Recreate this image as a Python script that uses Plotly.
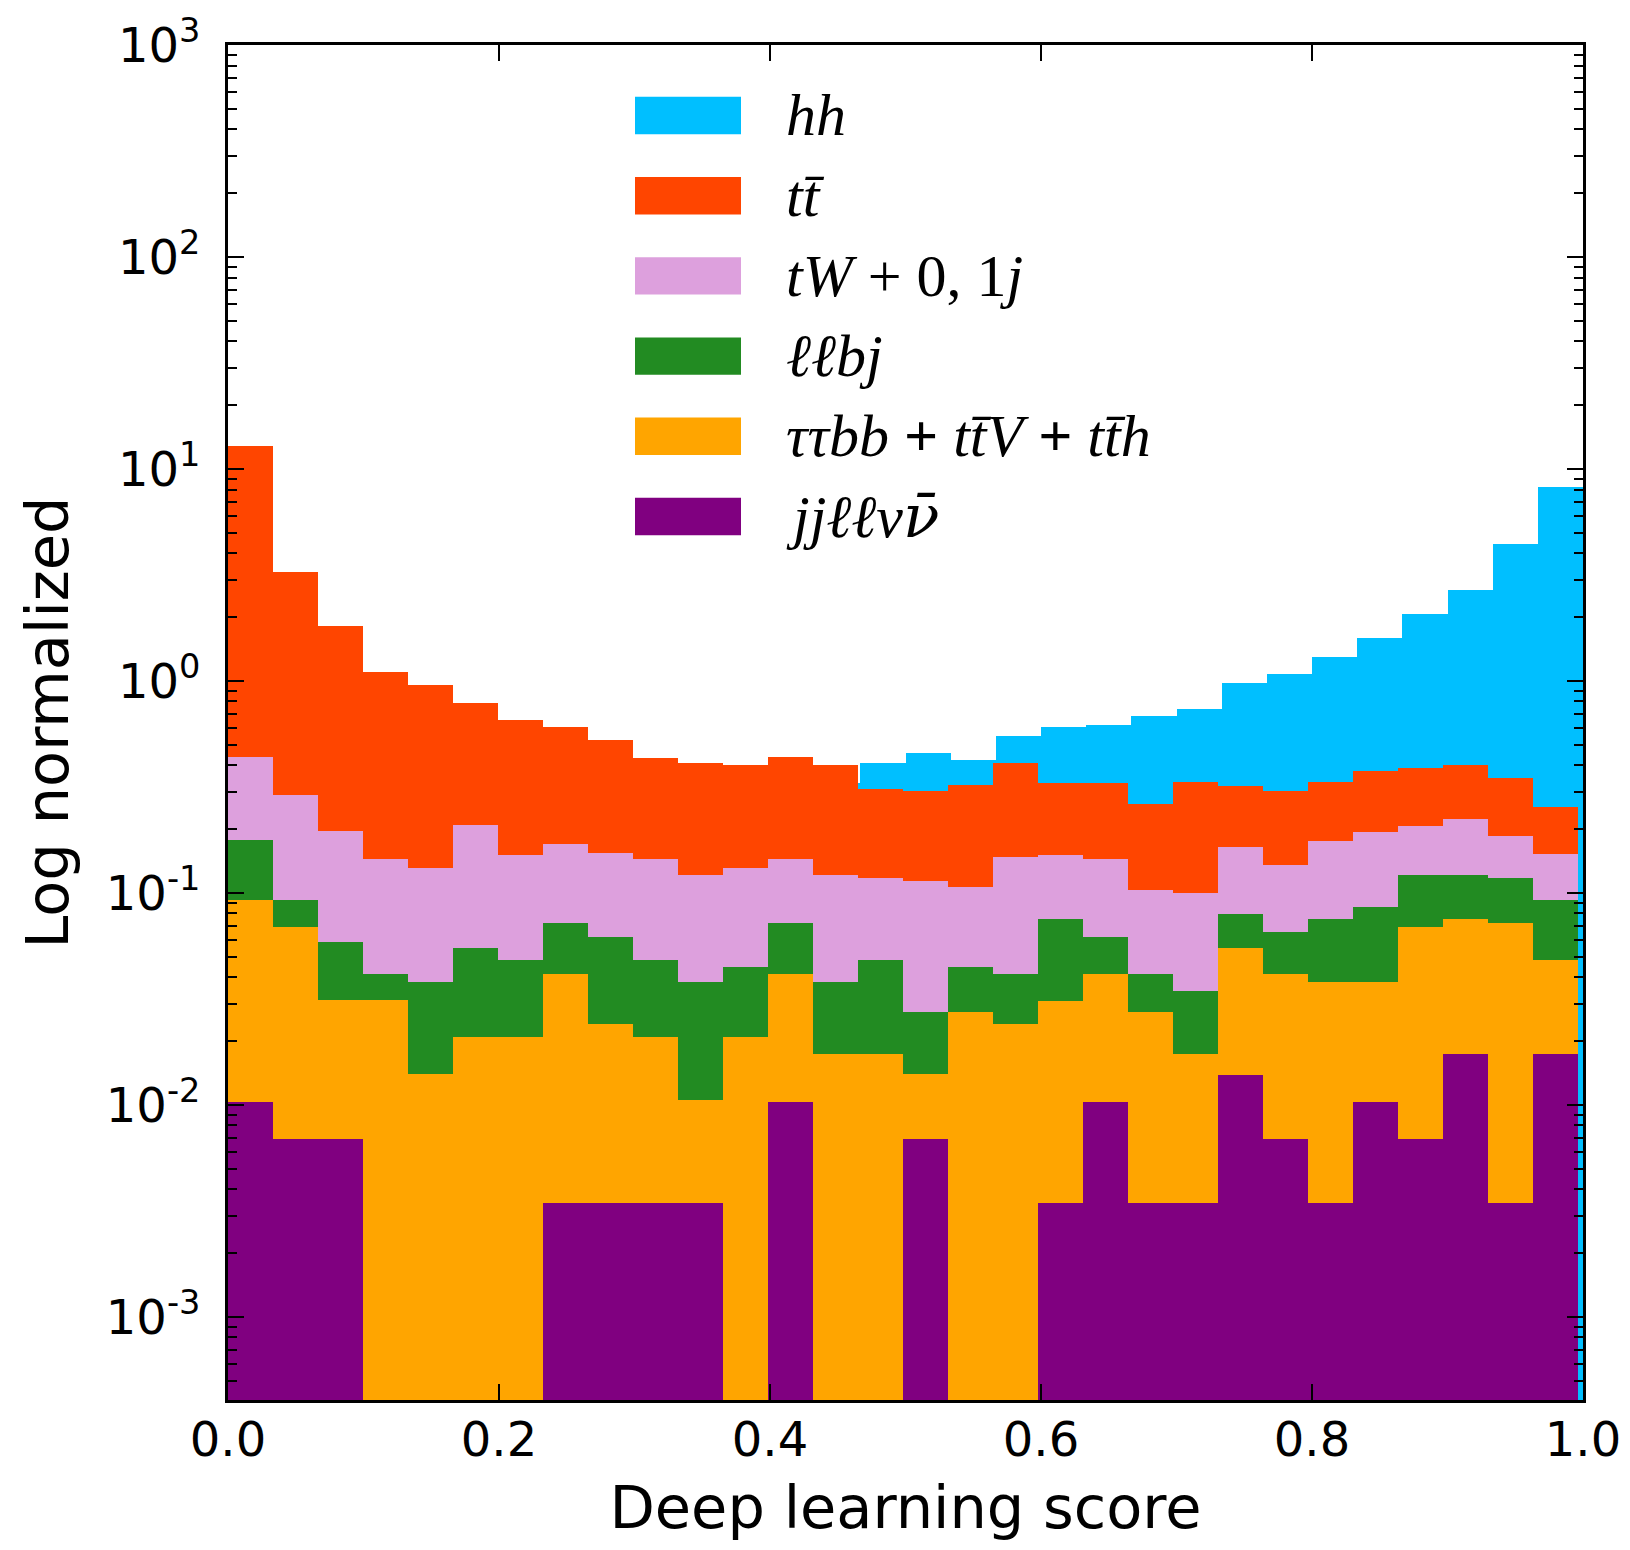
import numpy as np
import plotly.graph_objects as go

# ---------------- data ----------------
N_BINS = 30
X_MAX_SIGNAL = 1.0      # hh histogram spans the full [0, 1] range
X_MAX_BKG = 0.9963      # background histograms end slightly before 1.0

SERIES = ["hh", "tt", "tW", "llbj", "ttbb_ttV_tth", "jjllvv"]

NUBAR = "<span style=\"font-family:'DejaVu Serif'\">\u03bd\u0304</span>"
LEGEND_LABELS = [
    "<i>hh</i>",
    "<i>tt\u0304</i>",
    "<i>tW</i> + 0, 1<i>j</i>",
    "<i>\u2113\u2113bj</i>",
    "<i>\u03c4\u03c4bb</i> <b>+</b> <i>tt\u0304V</i> <b>+</b> <i>tt\u0304h</i>",
    "<i>jj\u2113\u2113\u03bd" + NUBAR + "</i>",
]

COLORS = ["#00BFFF", "#FF4500", "#DDA0DD", "#228B22", "#FFA500", "#800080"]

HH = [0.30, 0.27, 0.25, 0.24, 0.24, 0.25, 0.26, 0.27, 0.28, 0.29,
      0.30, 0.31, 0.32, 0.33, 0.409, 0.456, 0.424, 0.55, 0.605, 0.618,
      0.686, 0.74, 0.975, 1.075, 1.30, 1.59, 2.06, 2.69, 4.43, 8.26]

TT = [12.9, 3.27, 1.81, 1.10, 0.957, 0.79, 0.655, 0.605, 0.529, 0.435,
      0.412, 0.402, 0.44, 0.40, 0.308, 0.304, 0.323, 0.412, 0.329, 0.329,
      0.262, 0.333, 0.318, 0.303, 0.335, 0.376, 0.388, 0.402, 0.35, 0.254]

TW = [0.436, 0.29, 0.197, 0.1445, 0.131, 0.21, 0.151, 0.171, 0.155, 0.145,
      0.121, 0.131, 0.1445, 0.121, 0.118, 0.114, 0.107, 0.147, 0.151, 0.145,
      0.103, 0.10, 0.165, 0.135, 0.176, 0.193, 0.207, 0.223, 0.186, 0.152]

LLBJ = [0.178, 0.0927, 0.0585, 0.0413, 0.0379, 0.055, 0.0483, 0.0724, 0.062, 0.0481,
        0.0379, 0.0448, 0.0724, 0.0379, 0.0483, 0.0275, 0.0448, 0.0413, 0.0754, 0.062,
        0.0413, 0.0345, 0.0794, 0.0655, 0.0754, 0.0862, 0.121, 0.121, 0.117, 0.0927]

TTBB_TTV_TTH = [0.0927, 0.0689, 0.0313, 0.0313, 0.014, 0.0208, 0.0208, 0.0413, 0.0241, 0.0208,
                0.0105, 0.0208, 0.0413, 0.0173, 0.0173, 0.014, 0.0275, 0.0241, 0.031, 0.0413,
                0.0275, 0.0173, 0.0552, 0.0413, 0.0382, 0.0382, 0.0689, 0.0754, 0.0724, 0.0483]

JJLLVV = [0.0103, 0.0069, 0.0069, 0, 0, 0, 0, 0.00345, 0.00345, 0.00345,
          0.00345, 0, 0.0103, 0, 0, 0.0069, 0, 0, 0.00345, 0.0103,
          0.00345, 0.00345, 0.0138, 0.0069, 0.00345, 0.0103, 0.0069, 0.0173, 0.00345, 0.0173]

VALUES = [HH, TT, TW, LLBJ, TTBB_TTV_TTH, JJLLVV]
X_MAX = [X_MAX_SIGNAL, X_MAX_BKG, X_MAX_BKG, X_MAX_BKG, X_MAX_BKG, X_MAX_BKG]

X_TICKS = [0.0, 0.2, 0.4, 0.6, 0.8, 1.0]
Y_TICK_EXP = [-3, -2, -1, 0, 1, 2, 3]
Y_RANGE_LOG = [-3.392, 3.0]

# ---------------- figure ----------------
fig = go.Figure()
for name, vals, xmax, col in zip(SERIES, VALUES, X_MAX, COLORS):
    edges = np.linspace(0.0, xmax, N_BINS + 1)
    centers = 0.5 * (edges[:-1] + edges[1:])
    widths = np.diff(edges)
    y = [v if v > 0 else None for v in vals]
    fig.add_trace(go.Bar(
        x=centers, y=y, width=widths, name=name,
        marker=dict(color=col, line=dict(width=0)),
        showlegend=False,
    ))

# layout geometry (pixels); page body adds an 8px offset
OFF = 8
W, H = 1614, 1534
ML, MT = 220, 37
PW = PH = 1355
MR = W - ML - PW
MB = H - MT - PH

tick_font = dict(family="DejaVu Sans", size=48, color="black")
title_font = dict(family="DejaVu Sans", size=59, color="black")

fig.update_layout(
    width=W, height=H,
    margin=dict(l=ML, r=MR, t=MT, b=MB, pad=0, autoexpand=False),
    paper_bgcolor="white", plot_bgcolor="white",
    barmode="overlay", bargap=0,
    showlegend=False,
    xaxis=dict(
        range=[0, 1], tickvals=X_TICKS, ticktext=[f"{t:.1f}" for t in X_TICKS],
        ticks="inside", ticklen=16, tickwidth=2, tickcolor="black",
        showline=True, linewidth=3, linecolor="black", mirror="allticks",
        showgrid=False, zeroline=False, tickfont=tick_font, automargin=False,
        ticklabelstandoff=-5,
        title=dict(text="Deep learning score", font=title_font, standoff=42),
    ),
    yaxis=dict(
        type="log", range=Y_RANGE_LOG,
        tickvals=[10.0 ** e for e in Y_TICK_EXP],
        ticktext=[f"10<sup>{e}</sup>" for e in Y_TICK_EXP],
        ticks="inside", ticklen=16, tickwidth=2, tickcolor="black",
        showline=True, linewidth=3, linecolor="black", mirror="allticks",
        showgrid=False, zeroline=False, tickfont=tick_font, automargin=False,
        ticklabelstandoff=15,
        minor=dict(ticks="inside", ticklen=9, tickwidth=2, tickcolor="black",
                   tickvals=[k * 10.0 ** e for e in range(-4, 3) for k in range(2, 10)],
                   showgrid=False),
        title=dict(text="Log normalized", font=title_font, standoff=19),
    ),
)

# custom legend (large swatches + math-style labels)
def px_to_paper_x(px):
    return (px - (ML + OFF)) / PW

def px_to_paper_y(py):
    return ((MT + OFF) + PH - py) / PH

sw_x0, sw_x1, txt_x = 635, 741, 784
row0, row_step, half_h = 115.5, 80.2, 18.7
for i, (lab, col) in enumerate(zip(LEGEND_LABELS, COLORS)):
    cy = row0 + row_step * i
    fig.add_shape(type="rect", xref="paper", yref="paper",
                  x0=px_to_paper_x(sw_x0), x1=px_to_paper_x(sw_x1),
                  y0=px_to_paper_y(cy + half_h), y1=px_to_paper_y(cy - half_h),
                  fillcolor=col, line=dict(width=0))
    fig.add_annotation(xref="paper", yref="paper",
                       x=px_to_paper_x(txt_x), y=px_to_paper_y(cy),
                       xanchor="left", yanchor="middle", showarrow=False,
                       text=lab, font=dict(family="Liberation Serif", size=60, color="black"))

fig.write_html("out.html")
